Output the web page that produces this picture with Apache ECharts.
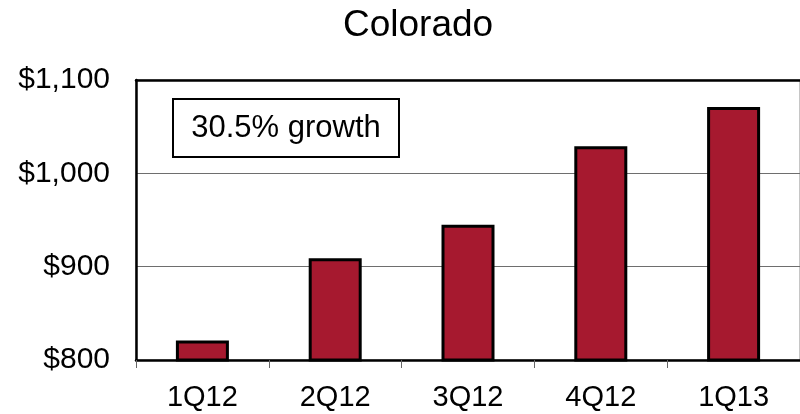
<!DOCTYPE html>
<html>
<head>
<meta charset="utf-8">
<style>
  html, body { margin: 0; padding: 0; background: #ffffff; }
  #chart { width: 800px; height: 414px; }
</style>
<script src="https://cdn.jsdelivr.net/npm/echarts@6/dist/echarts.min.js"></script>
</head>
<body>
<div id="chart"></div>
<script>
// Quarterly values for Colorado (in dollars)
const quarters = ['1Q12', '2Q12', '3Q12', '4Q12', '1Q13'];
const values = [821, 909, 945, 1029, 1071];
const yTicks = [800, 900, 1000, 1100];
const chartTitle = 'Colorado';
const growthNote = '30.5% growth';

const FONT = '"Liberation Sans", Arial, sans-serif';

const chart = echarts.init(document.getElementById('chart'), null, { renderer: 'canvas' });

chart.setOption({
  animation: false,
  backgroundColor: '#ffffff',
  title: {
    text: chartTitle,
    left: 338,
    top: 2,
    textStyle: { fontFamily: FONT, fontSize: 37, fontWeight: 'normal', color: '#000' }
  },
  grid: {
    left: 136,
    top: 80,
    width: 664,
    height: 280,
    show: true,
    borderColor: '#8c8c8c',
    borderWidth: 1,
    containLabel: false
  },
  xAxis: [{
    type: 'category',
    data: quarters,
    position: 'bottom',
    axisLine: { show: true, lineStyle: { color: '#000', width: 2.5 } },
    axisTick: { show: true, inside: false, length: 8, alignWithLabel: false, lineStyle: { color: '#666', width: 1 } },
    axisLabel: { fontFamily: FONT, fontSize: 29, color: '#000', margin: 23 },
    splitLine: { show: false }
  }, {
    type: 'category',
    data: quarters,
    position: 'top',
    axisLine: { show: true, lineStyle: { color: '#000', width: 2.5 } },
    axisTick: { show: false },
    axisLabel: { show: false },
    splitLine: { show: false }
  }],
  yAxis: {
    type: 'value',
    min: yTicks[0],
    max: yTicks[yTicks.length - 1],
    interval: 100,
    axisLine: { show: true, lineStyle: { color: '#000', width: 2.5 } },
    axisTick: { show: false },
    axisLabel: {
      fontFamily: FONT,
      fontSize: 30,
      color: '#000',
      margin: 26,
      formatter: v => '$' + v.toLocaleString('en-US')
    },
    splitLine: { show: true, lineStyle: { color: '#6e6e6e', width: 1 } }
  },
  series: [{
    type: 'bar',
    data: values,
    barWidth: 53,
    itemStyle: { color: '#A6192F', borderColor: '#000', borderWidth: 3 }
  }],
  graphic: [{
    type: 'group',
    left: 172,
    top: 98,
    children: [{
      type: 'rect',
      shape: { x: 0, y: 0, width: 226, height: 58 },
      style: { fill: '#fff', stroke: '#000', lineWidth: 2 }
    }, {
      type: 'text',
      x: 113,
      y: 29,
      style: {
        text: growthNote,
        font: '31px ' + FONT,
        fill: '#000',
        textAlign: 'center',
        textVerticalAlign: 'middle'
      }
    }]
  }]
});
</script>
</body>
</html>
